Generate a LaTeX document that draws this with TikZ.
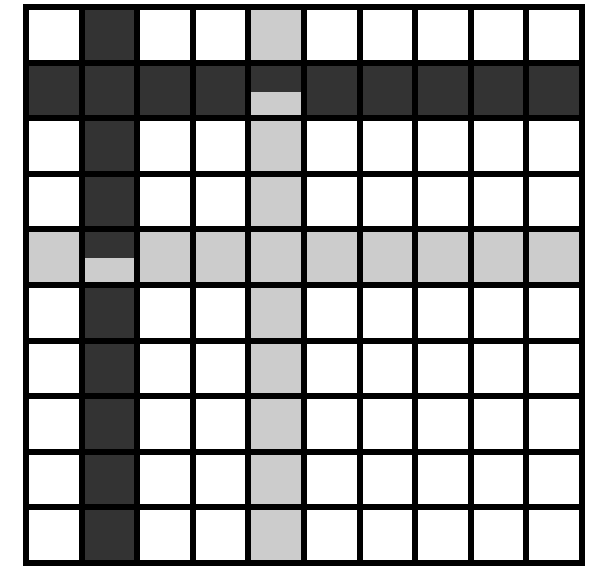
\documentclass[tikz,border=0pt]{standalone}
\definecolor{darkcell}{gray}{0.2}
\definecolor{lightcell}{gray}{0.8}
\begin{document}
\begin{tikzpicture}[x=1pt,y=-1pt,
  gridline/.style={line width=6pt, black, line cap=rect},
  darkfill/.style={fill=darkcell},
  lightfill/.style={fill=lightcell}]
\useasboundingbox (0,0) rectangle (593,566);
\fill[white] (0,0) rectangle (593,566);
% column 2 (dark) and column 5 (light)
\fill[darkfill] (81.6,7) rectangle (137.2,563);
\fill[lightfill] (248.4,7) rectangle (304,563);
% row 5 (light) and row 2 (dark)
\fill[lightfill] (26,229.4) rectangle (582,285);
\fill[darkfill] (26,62.6) rectangle (582,118.2);
% split cells: dark above, light below
\fill[lightfill] (248.4,92) rectangle (304,118.2);
\fill[darkfill] (81.6,229.4) rectangle (137.2,258);
% grid lines
\foreach \i in {0,...,10} {
  \draw[gridline] ({26+\i*55.6},7) -- ({26+\i*55.6},563);
  \draw[gridline] (26,{7+\i*55.6}) -- (582,{7+\i*55.6});
}
\end{tikzpicture}
\end{document}
